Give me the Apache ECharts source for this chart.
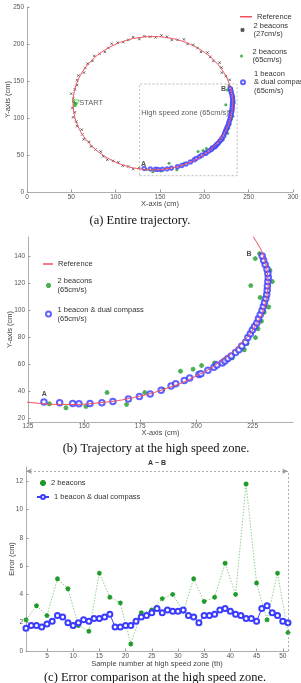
<!DOCTYPE html>
<html>
<head>
<meta charset="utf-8">
<script src="https://cdn.jsdelivr.net/npm/echarts@6/dist/echarts.min.js"></script>
<style>
  html, body { margin: 0; padding: 0; background: #fff; }
  #chart { width: 301px; height: 683px; }
</style>
</head>
<body>
<div id="chart"></div>
<script>
// reference path (cm)
const refCurve = [[232,120],[230.6,135.6],[226.6,150.8],[219.9,165],[210.9,177.9],[199.9,188.9],[187,197.9],[172.8,204.6],[157.6,208.6],[142,210],[126.4,208.6],[111.2,204.6],[97,197.9],[84.1,188.9],[73.1,177.9],[64.1,165],[57.4,150.8],[53.4,135.6],[52,120],[53.4,104.4],[57.4,89.2],[64.1,75],[73.1,62.1],[84.1,51.1],[97,42.1],[111.2,35.4],[126.4,31.4],[142,30],[157.6,31.4],[172.8,35.4],[187,42.1],[199.9,51.1],[210.9,62.1],[219.9,75],[226.6,89.2],[230.6,104.4],[232,120]];

// 2 beacons, 27cm/s
const slowRun = [[231,138.9],[227.5,144.6],[228.5,151.5],[224.3,156.6],[219.7,161.3],[219.2,168.2],[217.2,174.7],[210.2,177.2],[206.7,182.6],[203.5,188.4],[196.2,189.3],[192.3,194.6],[187.5,198.8],[181,200],[176.9,206.2],[169.8,205.6],[163.3,205.4],[157.8,209.6],[151.7,211.5],[145.1,208.9],[138.8,209.9],[132.4,210.5],[126.7,206.7],[119.7,209.2],[114.2,205.6],[108.6,202.5],[102.1,201.8],[95.5,200.5],[91.7,194.6],[87.8,189.3],[81.8,186.9],[75.9,183.9],[73.8,177.2],[68.4,173.5],[65.7,167.7],[64.3,161.3],[57.9,157.4],[56.5,151.1],[56.5,144.6],[54,138.7],[49.9,132.9],[52.2,126.3],[54,120],[51.2,113.6],[53.9,107.6],[52,100.9],[55.5,95.2],[56.5,88.9],[61.6,84.2],[62.5,77.8],[64,71.2],[70,67.7],[72.3,61.5],[77.3,57.4],[83.1,54.6],[85.9,48.3],[90.6,43.7],[97,42.1],[103,40],[107.9,35.6],[114.2,34.4],[119.7,30.8],[126.5,32.3]];

// 2 beacons, 65cm/s
const fastBeacons = [[134.5,30.5],[141.9,27.5],[150.8,28.5],[160.2,38.8],[168.9,30],[177,38.8],[185,41.3],[192.9,54.6],[198.5,56.1],[202.3,58.8],[208.1,60.7],[211.8,60.7],[216,64.6],[221.3,70.5],[222.5,75.1],[226.3,79.5],[227.4,86.1],[229,91.7],[230.2,98.3],[232.2,102.2],[228.4,109.2],[224.2,118],[233.8,121],[232.7,129.2],[230.8,133.6],[226.2,138],[228.1,141.7]];

// 1 beacon & dual compass, 65cm/s
const fastCompass = [[132.1,31.9],[139.1,31.2],[144.9,30.7],[147.7,30.5],[152.6,30.7],[157.9,31.2],[162.8,32.2],[169.7,34.1],[174.6,35.9],[179.4,37.8],[184.3,40.5],[188.7,43.6],[190.8,45.4],[194.6,47.8],[197,49.5],[201.1,52.2],[202,52.7],[205.1,55.3],[207.8,57.5],[209.1,59.3],[211.5,60.7],[212.7,62.2],[214,64.1],[215.5,65.9],[217.4,68.5],[218.9,70.5],[220.2,73.2],[221.9,76.1],[222.9,79.5],[224,82.4],[224.9,85.1],[225.9,87.8],[226.9,90.4],[227.6,93.5],[228.4,96.5],[229.2,99.5],[229.8,102.5],[230.3,105.5],[230.9,108.5],[231.3,111.5],[231.5,114.5],[231.6,117.8],[231.8,121],[232,124],[231.8,127],[231.4,130.2],[230.6,133.6],[229.9,136.8],[229.3,140]];

const startPts = [[52.5,122],[53.5,117],[55,119.5]];
const zoneBox = [[127,22],[237,22],[237,146],[127,146],[127,22]];
const notesA = [['START',59,120,'l'],['A',131.5,38.4,'c'],['B',221.7,139.7,'c'],['High speed zone (65cm/s)',128.9,107.3,'l']];
const notesB = [['A',132.2,37.6,'c'],['B',223.4,141,'c']];

// error per sample (cm)
const sampleOdd = [1,3,5,7,9,11,13,15,17,19,21,23,25,27,29,31,33,35,37,39,41,43,45,47,49,51];
const errBeacons = [2.2,3.2,2.5,5.1,4.4,1.8,1.4,5.5,3.8,3.4,0.5,2.7,2.9,3.7,4.0,2.8,5.1,3.5,3.8,6.2,4.0,11.8,4.8,2.2,5.5,1.3];
const sampleAll = [1,2,3,4,5,6,7,8,9,10,11,12,13,14,15,16,17,18,19,20,21,22,23,24,25,26,27,28,29,30,31,32,33,34,35,36,37,38,39,40,41,42,43,44,45,46,47,48,49,50,51];
const errCompass = [1.6,1.8,1.8,1.7,1.9,2.1,2.5,2.4,2.0,1.8,2.0,2.2,2.1,2.3,2.3,2.4,2.6,1.7,1.7,1.8,1.8,2.1,2.4,2.5,2.7,3.0,2.7,2.9,2.8,2.8,2.9,2.5,2.4,2.0,2.5,2.5,2.6,2.9,3.0,2.8,2.6,2.5,2.3,2.3,2.1,3.0,3.2,2.7,2.5,2.1,2.0];

const ticksA_x = [0,50,100,150,200,250,300];
const ticksA_y = [0,50,100,150,200,250];
const ticksB_x = [125,150,175,200,225];
const ticksB_y = [20,40,60,80,100,120,140];
const ticksC_x = [5,10,15,20,25,30,35,40,45,50];
const ticksC_y = [0,2,4,6,8,10,12];

const RED = '#f0505e', GREEN = '#1f9a2a', BLUE = '#3b3bff', BLACK = '#222';
const FONT = 'Liberation Sans';
const starPath = 'path://M5,0L5,10M0,5L10,5M1.5,1.5L8.5,8.5M8.5,1.5L1.5,8.5';
const crossPath = 'path://M0,0L10,10M10,0L0,10';

const legendText = {
  'a-ref': 'Reference',
  'a-slow': '2 beacons\n(27cm/s)',
  'a-two': '2 beacons\n(65cm/s)',
  'a-one': '1 beacon\n& dual compass\n(65cm/s)',
  'b-ref': 'Reference',
  'b-two': '2 beacons\n(65cm/s)',
  'b-one': '1 beacon & dual compass\n(65cm/s)',
  'c-two': '2 beacons',
  'c-one': '1 beacon & dual compass'
};

function leg(name, left, top, w, h, lh, extra) {
  return Object.assign({
    data: [name], left: left, top: top, orient: 'vertical',
    itemWidth: w, itemHeight: h, padding: 0, selectedMode: false,
    formatter: n => legendText[n],
    textStyle: { fontFamily: FONT, fontSize: 7.5, lineHeight: lh, color: '#333' }
  }, extra || {});
}

function axis(idx, min, max, ticks, name, gap, margin) {
  return {
    type: 'value', gridIndex: idx, min: min, max: max,
    name: name, nameLocation: 'middle', nameGap: gap, nameMoveOverlap: false,
    nameTextStyle: { fontFamily: FONT, fontSize: 7.5, color: '#444' },
    axisLine: { show: true, lineStyle: { color: '#999', width: 0.8 } },
    axisTick: { show: true, inside: true, length: 2.5, customValues: ticks, lineStyle: { color: '#999' } },
    axisLabel: { customValues: ticks, fontFamily: FONT, fontSize: 6.5, color: '#555', margin: margin },
    splitLine: { show: false }
  };
}

function notes(list, idx) {
  return {
    type: 'scatter', xAxisIndex: idx, yAxisIndex: idx, symbolSize: 0, silent: true, z: 10,
    data: list.map(n => ({
      value: [n[1], n[2]], name: n[0],
      label: { show: true, formatter: '{b}', position: n[3] === 'l' ? 'right' : 'inside', distance: 0,
        fontFamily: FONT, fontSize: n[0].length > 1 ? 7.5 : 7, fontWeight: n[0].length > 1 ? 'normal' : 'bold',
        color: n[0].length > 1 ? '#333' : '#222' }
    }))
  };
}

const chart = echarts.init(document.getElementById('chart'), null, { renderer: 'canvas' });

chart.setOption({
  animation: false,
  title: [
    { text: '(a) Entire trajectory.', left: 140, top: 214, textAlign: 'center' },
    { text: '(b) Trajectory at the high speed zone.', left: 156, top: 442, textAlign: 'center' },
    { text: '(c) Error comparison at the high speed zone.', left: 155, top: 671, textAlign: 'center' }
  ].map(t => Object.assign(t, { padding: 0, textStyle: { fontFamily: 'Liberation Serif', fontSize: 12.5, fontWeight: 'normal', color: '#111' } })),
  grid: [
    { left: 27, top: 7, width: 266, height: 185, outerBoundsMode: 'none' },
    { left: 28, top: 237, width: 265, height: 185, outerBoundsMode: 'none' },
    { left: 26, top: 467, width: 262, height: 184, outerBoundsMode: 'none' }
  ],
  xAxis: [
    axis(0, 0, 300, ticksA_x, 'X-axis (cm)', 8, 2),
    axis(1, 125, 243, ticksB_x, 'X-axis (cm)', 6.5, 1),
    axis(2, 1, 51, ticksC_x, 'Sample number at high speed zone (th)', 8.5, 2)
  ],
  yAxis: [
    axis(0, 0, 250, ticksA_y, 'Y-axis (cm)', 15.5, 3),
    axis(1, 17, 154, ticksB_y, 'Y-axis (cm)', 14.5, 3),
    axis(2, 0, 13, ticksC_y, 'Error (cm)', 10.5, 3)
  ],
  legend: [
    leg({ name: 'a-ref', icon: 'rect' }, 240, 12.5, 12, 1.5, 8.5),
    leg('a-slow', 240, 21.5, 12, 3, 8.5),
    leg('a-two', 240, 47.5, 12, 3, 8.5),
    leg('a-one', 240, 69.5, 12, 4, 8.5),
    leg({ name: 'b-ref', icon: 'rect' }, 43, 259.5, 10, 1.5, 9),
    leg('b-two', 45, 276.5, 8, 5, 9),
    leg('b-one', 45, 305, 8, 5, 9),
    leg({ name: 'c-two', icon: starPath }, 39, 478.5, 6, 6, 9),
    leg('c-one', 36, 492.5, 12, 5, 9)
  ],
  series: [
    // (a) entire trajectory
    { name: 'a-ref', type: 'line', xAxisIndex: 0, yAxisIndex: 0, data: refCurve, smooth: true,
      symbol: 'none', lineStyle: { color: RED, width: 1 }, itemStyle: { color: RED } },
    { type: 'line', xAxisIndex: 0, yAxisIndex: 0, data: zoneBox, symbol: 'none', silent: true,
      lineStyle: { color: '#aaa', width: 0.8, type: [2, 2] } },
    { name: 'a-slow', type: 'scatter', xAxisIndex: 0, yAxisIndex: 0, data: slowRun, symbol: crossPath, symbolSize: 2.5,
      itemStyle: { color: BLACK, borderColor: BLACK, borderWidth: 0.8 } },
    { name: 'a-two', type: 'scatter', xAxisIndex: 0, yAxisIndex: 0, data: fastBeacons, symbol: 'circle', symbolSize: 3,
      itemStyle: { color: GREEN } },
    { name: 'a-one', type: 'scatter', xAxisIndex: 0, yAxisIndex: 0, data: fastCompass, symbol: 'emptyCircle', symbolSize: 3.5,
      itemStyle: { color: BLUE, borderWidth: 0.8 } },
    { type: 'scatter', xAxisIndex: 0, yAxisIndex: 0, data: startPts, symbol: 'circle', symbolSize: 3,
      itemStyle: { color: GREEN } },
    { type: 'scatter', xAxisIndex: 0, yAxisIndex: 0, data: [startPts[2]], symbol: 'triangle', symbolRotate: 180, symbolSize: 7,
      itemStyle: { color: 'rgba(0,0,0,0)', borderColor: '#3fd03f', borderWidth: 1 } },
    notes(notesA, 0),

    // (b) high speed zone
    { name: 'b-ref', type: 'line', xAxisIndex: 1, yAxisIndex: 1, data: refCurve, smooth: true, clip: true,
      symbol: 'none', lineStyle: { color: RED, width: 1 }, itemStyle: { color: RED } },
    { name: 'b-two', type: 'scatter', xAxisIndex: 1, yAxisIndex: 1, data: fastBeacons, symbol: starPath, symbolSize: 5,
      itemStyle: { color: GREEN, borderColor: GREEN, borderWidth: 1.3 } },
    { name: 'b-one', type: 'scatter', xAxisIndex: 1, yAxisIndex: 1, data: fastCompass, symbol: 'emptyCircle', symbolSize: 5.5,
      itemStyle: { color: BLUE, borderWidth: 0.9 } },
    notes(notesB, 1),

    // (c) error comparison
    { name: 'c-two', type: 'line', xAxisIndex: 2, yAxisIndex: 2, data: sampleOdd.map((s, i) => [s, errBeacons[i]]),
      symbol: starPath, symbolSize: 5,
      lineStyle: { color: '#6fc46f', width: 0.8, type: [1.5, 1.5] },
      itemStyle: { color: GREEN, borderColor: GREEN, borderWidth: 1.3 } },
    { name: 'c-one', type: 'line', xAxisIndex: 2, yAxisIndex: 2, data: sampleAll.map((s, i) => [s, errCompass[i]]),
      symbol: 'emptyCircle', symbolSize: 5,
      lineStyle: { color: BLUE, width: 1 }, itemStyle: { color: BLUE, borderWidth: 0.9 },
      markLine: {
        silent: true, animation: false,
        lineStyle: { color: '#999', width: 0.8, type: [2, 2] },
        data: [
          [{ coord: [1, 12.7], symbol: 'arrow', symbolSize: [4, 6] },
           { coord: [51, 12.7], symbol: 'arrow', symbolSize: [4, 6],
             label: { show: true, position: 'middle', formatter: 'A ~ B', fontFamily: FONT, fontSize: 7,
               fontWeight: 'bold', color: '#333', backgroundColor: '#fff', padding: [0, 3] } }],
          [{ coord: [51, 0], symbol: 'none', label: { show: false } }, { coord: [51, 12.7], symbol: 'none', label: { show: false } }]
        ]
      } }
  ]
});
</script>
</body>
</html>
